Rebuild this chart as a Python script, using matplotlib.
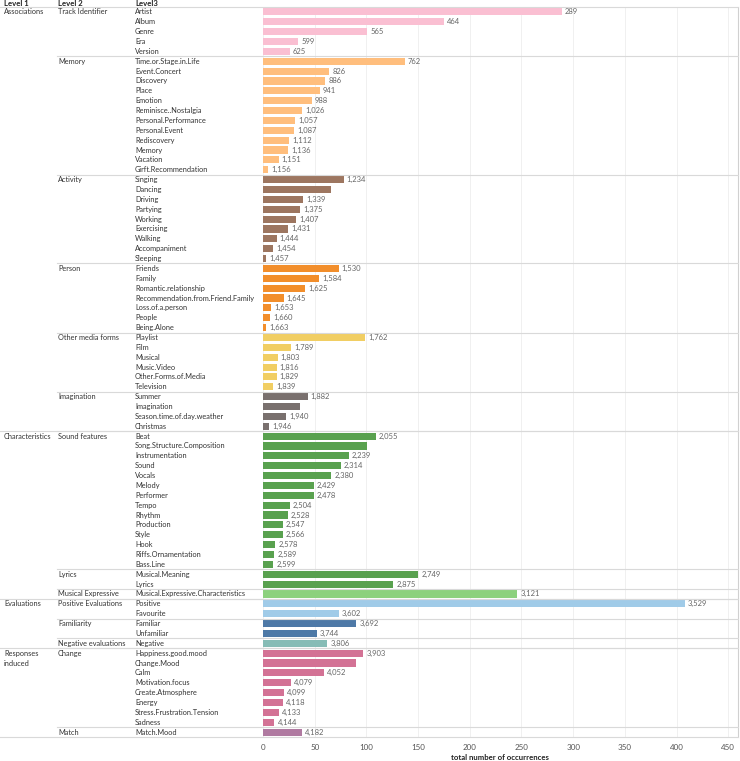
import numpy as np
import matplotlib
matplotlib.use("Agg")
import matplotlib.pyplot as plt
from matplotlib.lines import Line2D
from matplotlib.transforms import blended_transform_factory

plt.rcParams['font.family'] = ['Lato', 'DejaVu Sans']

# Level 1 / Level 2 hierarchy
level1_names = ["Associations", "Characteristics", "Evaluations", "Responses\ninduced"]
level1_sizes = [6, 3, 3, 2]  # number of level-2 groups under each level-1 group

level2_names = ["Track Identifier", "Memory", "Activity", "Person", "Other media forms",
                "Imagination", "Sound features", "Lyrics", "Musical Expressive",
                "Positive Evaluations", "Familiarity", "Negative evaluations",
                "Change", "Match"]
level2_sizes = [5, 12, 9, 7, 6, 4, 14, 2, 1, 2, 2, 1, 8, 1]
level2_colors = ["#FABFD2", "#FFBE7D", "#9D7660", "#F28E2B", "#F1CE63", "#79706E",
                 "#59A14F", "#59A14F", "#8CD17D", "#A0CBE8", "#4E79A7", "#86BCB6",
                 "#D37295", "#B07AA1"]

level3_names = [
    "Artist", "Album", "Genre", "Era", "Version",
    "Time.or.Stage.in.Life", "Event.Concert", "Discovery", "Place", "Emotion",
    "Reminisce..Nostalgia", "Personal.Performance", "Personal.Event", "Rediscovery",
    "Memory", "Vacation", "Girft.Recommendation",
    "Singing", "Dancing", "Driving", "Partying", "Working", "Exercising", "Walking",
    "Accompaniment", "Sleeping",
    "Friends", "Family", "Romantic.relationship", "Recommendation.from.Friend.Family",
    "Loss.of.a.person", "People", "Being.Alone",
    "Playlist", "Film", "Musical", "Music.Video", "Other.Forms.of.Media", "Television",
    "Summer", "Imagination", "Season.time.of.day.weather", "Christmas",
    "Beat", "Song.Structure.Composition", "Instrumentation", "Sound", "Vocals", "Melody",
    "Performer", "Tempo", "Rhythm", "Production", "Style", "Hook", "Riffs.Ornamentation",
    "Bass.Line",
    "Musical.Meaning", "Lyrics",
    "Musical.Expressive.Characteristics",
    "Positive", "Favourite",
    "Familiar", "Unfamiliar",
    "Negative",
    "Happiness.good.mood", "Change.Mood", "Calm", "Motivation.focus", "Create.Atmosphere",
    "Energy", "Stress.Frustration.Tension", "Sadness",
    "Match.Mood",
]
counts = [
    289, 175, 101, 34, 26,
    137, 64, 60, 55, 47, 38, 31, 30, 25, 24, 15, 5,
    78, 66, 39, 36, 32, 24, 13, 10, 3,
    73, 54, 41, 20, 8, 7, 3,
    99, 27, 14, 13, 13, 10,
    43, 36, 22, 6,
    109, 101, 83, 75, 66, 49, 49, 26, 24, 19, 19, 12, 11, 10,
    150, 126,
    246,
    408, 73,
    90, 52,
    62,
    97, 90, 59, 27, 20, 19, 15, 11,
    38,
]
# labels Tableau dropped because they collided
hidden_labels = ["Dancing", "Imagination", "Song.Structure.Composition", "Change.Mood"]

# running total shown next to each bar
running = np.cumsum(counts)

W, H = 740, 761
fig = plt.figure(figsize=(W / 100, H / 100), dpi=100)
ax_left, ax_right, ax_top, ax_bot = 261, 738, 7, 737
ax = fig.add_axes([ax_left / W, 1 - ax_bot / H, (ax_right - ax_left) / W, (ax_bot - ax_top) / H])

n = len(counts)
y = np.arange(n)
colors = np.repeat(level2_colors, level2_sizes)
ax.barh(y, counts, height=0.72, color=colors, edgecolor="none", zorder=3)
ax.set_ylim(n - 0.5, -0.5)
ax.set_xlim(-2, 459.5)
ax.set_xticks(np.arange(0, 451, 50))
ax.tick_params(axis="x", length=0, labelsize=5.8, labelcolor="#555555", pad=5)
ax.set_yticks([])
for s in ["top", "left", "bottom"]:
    ax.spines[s].set_visible(False)
ax.spines["right"].set_color("#d0d0d0")
ax.spines["right"].set_linewidth(0.8)
ax.grid(axis="x", color="#f0f0f0", linewidth=0.7, zorder=0)
fig.text((ax_left + ax_right) / 2 / W, 1 - 757 / H, "total number of occurrences",
         ha="center", va="center", fontsize=5.6, fontweight="bold", color="#222222")

for i, (name, c, r) in enumerate(zip(level3_names, counts, running)):
    if name in hidden_labels:
        continue
    ax.text(c + 3, i, f"{r:,}", va="center", ha="left", fontsize=5.5,
            color="#666666", zorder=4)

tr = blended_transform_factory(fig.transFigure, ax.transData)
x1, x2, x3 = 4 / W, 58 / W, 135 / W
fs = 5.3

# level 3 labels
for i, name in enumerate(level3_names):
    ax.text(x3, i, name, transform=tr, va="center", ha="left", fontsize=fs,
            color="#333333", clip_on=False)

# level 2 labels + separators
starts2 = np.concatenate([[0], np.cumsum(level2_sizes)[:-1]])
for name, s in zip(level2_names, starts2):
    ax.text(x2, s, name, transform=tr, va="center", ha="left", fontsize=fs,
            color="#333333", clip_on=False)
    if s > 0:
        fig.add_artist(Line2D([x2 - 1 / W, ax_right / W], [s - 0.5, s - 0.5],
                              transform=tr, color="#d9d9d9", linewidth=0.8))

# level 1 labels + separators
row_counts1 = []
k = 0
for m in level1_sizes:
    row_counts1.append(sum(level2_sizes[k:k + m]))
    k += m
starts1 = np.concatenate([[0], np.cumsum(row_counts1)[:-1]])
for name, s in zip(level1_names, starts1):
    ax.text(x1, s - 0.35, name, transform=tr, va="top", ha="left", fontsize=fs,
            color="#333333", clip_on=False, linespacing=1.5)
    fig.add_artist(Line2D([0, ax_right / W], [s - 0.5, s - 0.5],
                          transform=tr, color="#d9d9d9", linewidth=0.8))
fig.add_artist(Line2D([0, ax_right / W], [n - 0.5, n - 0.5],
                      transform=tr, color="#d9d9d9", linewidth=0.8))

# column headers
for xx, t in [(x1, "Level 1"), (x2, "Level 2"), (x3, "Level3")]:
    fig.text(xx, 1 - 4 / H, t, va="center", ha="left", fontsize=5.6,
             fontweight="bold", color="#222222")

fig.savefig("out.png", dpi=100)
